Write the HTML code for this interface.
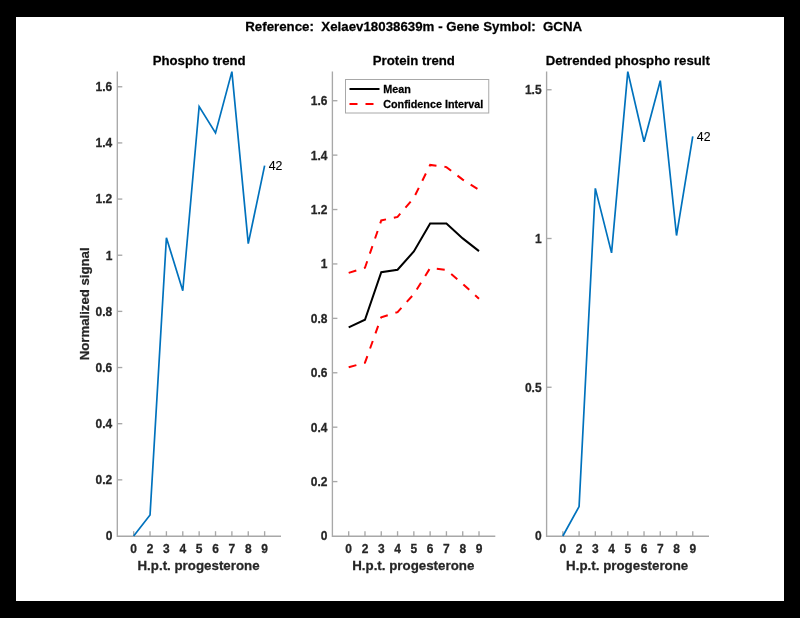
<!DOCTYPE html>
<html><head><meta charset="utf-8"><style>
html,body{margin:0;padding:0;background:#000;overflow:hidden;}
svg{display:block;will-change:transform;font-family:"Liberation Sans",sans-serif;}
</style></head><body>
<svg width="800" height="618" viewBox="0 0 800 618">
<rect x="0" y="0" width="800" height="618" fill="#000"/>
<rect x="16" y="17" width="768" height="584" fill="#fff"/>
<text transform="translate(413.70 31.00) scale(1 1.005)" text-anchor="middle" font-size="13.3" font-weight="bold" stroke="#000" stroke-width="0.25" fill="#000" xml:space="preserve" style="white-space:pre">Reference:  Xelaev18038639m - Gene Symbol:  GCNA</text>
<path d="M117.30 71.6V536.20H281.0" fill="none" stroke="#a8a8a8" stroke-width="1.35"/>
<text transform="translate(112.30 540.40) scale(1 1.005)" text-anchor="end" font-size="12" font-weight="bold" stroke="#262626" stroke-width="0.25" fill="#262626">0</text>
<path d="M117.30 479.85h5" stroke="#a8a8a8" stroke-width="1.35"/>
<text transform="translate(112.30 484.25) scale(1 1.005)" text-anchor="end" font-size="12" font-weight="bold" stroke="#262626" stroke-width="0.25" fill="#262626">0.2</text>
<path d="M117.30 423.69h5" stroke="#a8a8a8" stroke-width="1.35"/>
<text transform="translate(112.30 428.09) scale(1 1.005)" text-anchor="end" font-size="12" font-weight="bold" stroke="#262626" stroke-width="0.25" fill="#262626">0.4</text>
<path d="M117.30 367.54h5" stroke="#a8a8a8" stroke-width="1.35"/>
<text transform="translate(112.30 371.94) scale(1 1.005)" text-anchor="end" font-size="12" font-weight="bold" stroke="#262626" stroke-width="0.25" fill="#262626">0.6</text>
<path d="M117.30 311.38h5" stroke="#a8a8a8" stroke-width="1.35"/>
<text transform="translate(112.30 315.78) scale(1 1.005)" text-anchor="end" font-size="12" font-weight="bold" stroke="#262626" stroke-width="0.25" fill="#262626">0.8</text>
<path d="M117.30 255.23h5" stroke="#a8a8a8" stroke-width="1.35"/>
<text transform="translate(112.30 259.63) scale(1 1.005)" text-anchor="end" font-size="12" font-weight="bold" stroke="#262626" stroke-width="0.25" fill="#262626">1</text>
<path d="M117.30 199.07h5" stroke="#a8a8a8" stroke-width="1.35"/>
<text transform="translate(112.30 203.47) scale(1 1.005)" text-anchor="end" font-size="12" font-weight="bold" stroke="#262626" stroke-width="0.25" fill="#262626">1.2</text>
<path d="M117.30 142.92h5" stroke="#a8a8a8" stroke-width="1.35"/>
<text transform="translate(112.30 147.32) scale(1 1.005)" text-anchor="end" font-size="12" font-weight="bold" stroke="#262626" stroke-width="0.25" fill="#262626">1.4</text>
<path d="M117.30 86.76h5" stroke="#a8a8a8" stroke-width="1.35"/>
<text transform="translate(112.30 91.16) scale(1 1.005)" text-anchor="end" font-size="12" font-weight="bold" stroke="#262626" stroke-width="0.25" fill="#262626">1.6</text>
<path d="M133.67 536.20v-5" stroke="#a8a8a8" stroke-width="1.35"/>
<text transform="translate(133.67 552.60) scale(1 1.005)" text-anchor="middle" font-size="12" font-weight="bold" stroke="#262626" stroke-width="0.25" fill="#262626">0</text>
<path d="M150.04 536.20v-5" stroke="#a8a8a8" stroke-width="1.35"/>
<text transform="translate(150.04 552.60) scale(1 1.005)" text-anchor="middle" font-size="12" font-weight="bold" stroke="#262626" stroke-width="0.25" fill="#262626">2</text>
<path d="M166.41 536.20v-5" stroke="#a8a8a8" stroke-width="1.35"/>
<text transform="translate(166.41 552.60) scale(1 1.005)" text-anchor="middle" font-size="12" font-weight="bold" stroke="#262626" stroke-width="0.25" fill="#262626">3</text>
<path d="M182.78 536.20v-5" stroke="#a8a8a8" stroke-width="1.35"/>
<text transform="translate(182.78 552.60) scale(1 1.005)" text-anchor="middle" font-size="12" font-weight="bold" stroke="#262626" stroke-width="0.25" fill="#262626">4</text>
<path d="M199.15 536.20v-5" stroke="#a8a8a8" stroke-width="1.35"/>
<text transform="translate(199.15 552.60) scale(1 1.005)" text-anchor="middle" font-size="12" font-weight="bold" stroke="#262626" stroke-width="0.25" fill="#262626">5</text>
<path d="M215.52 536.20v-5" stroke="#a8a8a8" stroke-width="1.35"/>
<text transform="translate(215.52 552.60) scale(1 1.005)" text-anchor="middle" font-size="12" font-weight="bold" stroke="#262626" stroke-width="0.25" fill="#262626">6</text>
<path d="M231.89 536.20v-5" stroke="#a8a8a8" stroke-width="1.35"/>
<text transform="translate(231.89 552.60) scale(1 1.005)" text-anchor="middle" font-size="12" font-weight="bold" stroke="#262626" stroke-width="0.25" fill="#262626">7</text>
<path d="M248.26 536.20v-5" stroke="#a8a8a8" stroke-width="1.35"/>
<text transform="translate(248.26 552.60) scale(1 1.005)" text-anchor="middle" font-size="12" font-weight="bold" stroke="#262626" stroke-width="0.25" fill="#262626">8</text>
<path d="M264.63 536.20v-5" stroke="#a8a8a8" stroke-width="1.35"/>
<text transform="translate(264.63 552.60) scale(1 1.005)" text-anchor="middle" font-size="12" font-weight="bold" stroke="#262626" stroke-width="0.25" fill="#262626">9</text>
<text transform="translate(198.55 569.80) scale(1 1.005)" text-anchor="middle" font-size="13.33" font-weight="bold" stroke="#262626" stroke-width="0.25" fill="#262626">H.p.t. progesterone</text>
<text transform="translate(199.15 65.30) scale(1 1.005)" text-anchor="middle" font-size="13.2" font-weight="bold" stroke="#000" stroke-width="0.25" fill="#000">Phospho trend</text>
<path d="M332.40 71.6V536.20H495.3" fill="none" stroke="#a8a8a8" stroke-width="1.35"/>
<text transform="translate(327.40 540.40) scale(1 1.005)" text-anchor="end" font-size="12" font-weight="bold" stroke="#262626" stroke-width="0.25" fill="#262626">0</text>
<path d="M332.40 481.59h5" stroke="#a8a8a8" stroke-width="1.35"/>
<text transform="translate(327.40 485.99) scale(1 1.005)" text-anchor="end" font-size="12" font-weight="bold" stroke="#262626" stroke-width="0.25" fill="#262626">0.2</text>
<path d="M332.40 427.18h5" stroke="#a8a8a8" stroke-width="1.35"/>
<text transform="translate(327.40 431.58) scale(1 1.005)" text-anchor="end" font-size="12" font-weight="bold" stroke="#262626" stroke-width="0.25" fill="#262626">0.4</text>
<path d="M332.40 372.77h5" stroke="#a8a8a8" stroke-width="1.35"/>
<text transform="translate(327.40 377.17) scale(1 1.005)" text-anchor="end" font-size="12" font-weight="bold" stroke="#262626" stroke-width="0.25" fill="#262626">0.6</text>
<path d="M332.40 318.36h5" stroke="#a8a8a8" stroke-width="1.35"/>
<text transform="translate(327.40 322.76) scale(1 1.005)" text-anchor="end" font-size="12" font-weight="bold" stroke="#262626" stroke-width="0.25" fill="#262626">0.8</text>
<path d="M332.40 263.94h5" stroke="#a8a8a8" stroke-width="1.35"/>
<text transform="translate(327.40 268.34) scale(1 1.005)" text-anchor="end" font-size="12" font-weight="bold" stroke="#262626" stroke-width="0.25" fill="#262626">1</text>
<path d="M332.40 209.53h5" stroke="#a8a8a8" stroke-width="1.35"/>
<text transform="translate(327.40 213.93) scale(1 1.005)" text-anchor="end" font-size="12" font-weight="bold" stroke="#262626" stroke-width="0.25" fill="#262626">1.2</text>
<path d="M332.40 155.12h5" stroke="#a8a8a8" stroke-width="1.35"/>
<text transform="translate(327.40 159.52) scale(1 1.005)" text-anchor="end" font-size="12" font-weight="bold" stroke="#262626" stroke-width="0.25" fill="#262626">1.4</text>
<path d="M332.40 100.71h5" stroke="#a8a8a8" stroke-width="1.35"/>
<text transform="translate(327.40 105.11) scale(1 1.005)" text-anchor="end" font-size="12" font-weight="bold" stroke="#262626" stroke-width="0.25" fill="#262626">1.6</text>
<path d="M348.69 536.20v-5" stroke="#a8a8a8" stroke-width="1.35"/>
<text transform="translate(348.69 552.60) scale(1 1.005)" text-anchor="middle" font-size="12" font-weight="bold" stroke="#262626" stroke-width="0.25" fill="#262626">0</text>
<path d="M364.98 536.20v-5" stroke="#a8a8a8" stroke-width="1.35"/>
<text transform="translate(364.98 552.60) scale(1 1.005)" text-anchor="middle" font-size="12" font-weight="bold" stroke="#262626" stroke-width="0.25" fill="#262626">2</text>
<path d="M381.27 536.20v-5" stroke="#a8a8a8" stroke-width="1.35"/>
<text transform="translate(381.27 552.60) scale(1 1.005)" text-anchor="middle" font-size="12" font-weight="bold" stroke="#262626" stroke-width="0.25" fill="#262626">3</text>
<path d="M397.56 536.20v-5" stroke="#a8a8a8" stroke-width="1.35"/>
<text transform="translate(397.56 552.60) scale(1 1.005)" text-anchor="middle" font-size="12" font-weight="bold" stroke="#262626" stroke-width="0.25" fill="#262626">4</text>
<path d="M413.85 536.20v-5" stroke="#a8a8a8" stroke-width="1.35"/>
<text transform="translate(413.85 552.60) scale(1 1.005)" text-anchor="middle" font-size="12" font-weight="bold" stroke="#262626" stroke-width="0.25" fill="#262626">5</text>
<path d="M430.14 536.20v-5" stroke="#a8a8a8" stroke-width="1.35"/>
<text transform="translate(430.14 552.60) scale(1 1.005)" text-anchor="middle" font-size="12" font-weight="bold" stroke="#262626" stroke-width="0.25" fill="#262626">6</text>
<path d="M446.43 536.20v-5" stroke="#a8a8a8" stroke-width="1.35"/>
<text transform="translate(446.43 552.60) scale(1 1.005)" text-anchor="middle" font-size="12" font-weight="bold" stroke="#262626" stroke-width="0.25" fill="#262626">7</text>
<path d="M462.72 536.20v-5" stroke="#a8a8a8" stroke-width="1.35"/>
<text transform="translate(462.72 552.60) scale(1 1.005)" text-anchor="middle" font-size="12" font-weight="bold" stroke="#262626" stroke-width="0.25" fill="#262626">8</text>
<path d="M479.01 536.20v-5" stroke="#a8a8a8" stroke-width="1.35"/>
<text transform="translate(479.01 552.60) scale(1 1.005)" text-anchor="middle" font-size="12" font-weight="bold" stroke="#262626" stroke-width="0.25" fill="#262626">9</text>
<text transform="translate(413.25 569.80) scale(1 1.005)" text-anchor="middle" font-size="13.33" font-weight="bold" stroke="#262626" stroke-width="0.25" fill="#262626">H.p.t. progesterone</text>
<text transform="translate(413.85 65.30) scale(1 1.005)" text-anchor="middle" font-size="13.2" font-weight="bold" stroke="#000" stroke-width="0.25" fill="#000">Protein trend</text>
<path d="M546.60 71.6V536.20H709.0" fill="none" stroke="#a8a8a8" stroke-width="1.35"/>
<text transform="translate(541.60 540.40) scale(1 1.005)" text-anchor="end" font-size="12" font-weight="bold" stroke="#262626" stroke-width="0.25" fill="#262626">0</text>
<path d="M546.60 387.25h5" stroke="#a8a8a8" stroke-width="1.35"/>
<text transform="translate(541.60 391.65) scale(1 1.005)" text-anchor="end" font-size="12" font-weight="bold" stroke="#262626" stroke-width="0.25" fill="#262626">0.5</text>
<path d="M546.60 238.50h5" stroke="#a8a8a8" stroke-width="1.35"/>
<text transform="translate(541.60 242.90) scale(1 1.005)" text-anchor="end" font-size="12" font-weight="bold" stroke="#262626" stroke-width="0.25" fill="#262626">1</text>
<path d="M546.60 89.75h5" stroke="#a8a8a8" stroke-width="1.35"/>
<text transform="translate(541.60 94.15) scale(1 1.005)" text-anchor="end" font-size="12" font-weight="bold" stroke="#262626" stroke-width="0.25" fill="#262626">1.5</text>
<path d="M562.84 536.20v-5" stroke="#a8a8a8" stroke-width="1.35"/>
<text transform="translate(562.84 552.60) scale(1 1.005)" text-anchor="middle" font-size="12" font-weight="bold" stroke="#262626" stroke-width="0.25" fill="#262626">0</text>
<path d="M579.08 536.20v-5" stroke="#a8a8a8" stroke-width="1.35"/>
<text transform="translate(579.08 552.60) scale(1 1.005)" text-anchor="middle" font-size="12" font-weight="bold" stroke="#262626" stroke-width="0.25" fill="#262626">2</text>
<path d="M595.32 536.20v-5" stroke="#a8a8a8" stroke-width="1.35"/>
<text transform="translate(595.32 552.60) scale(1 1.005)" text-anchor="middle" font-size="12" font-weight="bold" stroke="#262626" stroke-width="0.25" fill="#262626">3</text>
<path d="M611.56 536.20v-5" stroke="#a8a8a8" stroke-width="1.35"/>
<text transform="translate(611.56 552.60) scale(1 1.005)" text-anchor="middle" font-size="12" font-weight="bold" stroke="#262626" stroke-width="0.25" fill="#262626">4</text>
<path d="M627.80 536.20v-5" stroke="#a8a8a8" stroke-width="1.35"/>
<text transform="translate(627.80 552.60) scale(1 1.005)" text-anchor="middle" font-size="12" font-weight="bold" stroke="#262626" stroke-width="0.25" fill="#262626">5</text>
<path d="M644.04 536.20v-5" stroke="#a8a8a8" stroke-width="1.35"/>
<text transform="translate(644.04 552.60) scale(1 1.005)" text-anchor="middle" font-size="12" font-weight="bold" stroke="#262626" stroke-width="0.25" fill="#262626">6</text>
<path d="M660.28 536.20v-5" stroke="#a8a8a8" stroke-width="1.35"/>
<text transform="translate(660.28 552.60) scale(1 1.005)" text-anchor="middle" font-size="12" font-weight="bold" stroke="#262626" stroke-width="0.25" fill="#262626">7</text>
<path d="M676.52 536.20v-5" stroke="#a8a8a8" stroke-width="1.35"/>
<text transform="translate(676.52 552.60) scale(1 1.005)" text-anchor="middle" font-size="12" font-weight="bold" stroke="#262626" stroke-width="0.25" fill="#262626">8</text>
<path d="M692.76 536.20v-5" stroke="#a8a8a8" stroke-width="1.35"/>
<text transform="translate(692.76 552.60) scale(1 1.005)" text-anchor="middle" font-size="12" font-weight="bold" stroke="#262626" stroke-width="0.25" fill="#262626">9</text>
<text transform="translate(627.20 569.80) scale(1 1.005)" text-anchor="middle" font-size="13.33" font-weight="bold" stroke="#262626" stroke-width="0.25" fill="#262626">H.p.t. progesterone</text>
<text transform="translate(627.80 65.30) scale(1 1.005)" text-anchor="middle" font-size="13.2" font-weight="bold" stroke="#000" stroke-width="0.25" fill="#000">Detrended phospho result</text>
<polyline points="133.67,536.00 150.04,514.94 166.41,237.73 182.78,290.77 199.15,106.50 215.52,132.89 231.89,71.60 248.26,243.60 264.63,165.66" fill="none" stroke="#0072bd" stroke-width="1.7"/>
<polyline points="562.84,536.00 579.08,506.55 595.32,188.34 611.56,252.90 627.80,71.60 644.04,141.81 660.28,80.70 676.52,235.52 692.76,136.46" fill="none" stroke="#0072bd" stroke-width="1.7"/>
<polyline points="348.69,272.92 364.98,267.75 381.27,220.41 397.56,216.88 413.85,197.83 430.14,164.92 446.43,167.09 462.72,179.61 479.01,189.94" fill="none" stroke="#ff0000" stroke-width="2" stroke-dasharray="8 8"/>
<polyline points="348.69,367.33 364.98,362.70 381.27,317.27 397.56,312.10 413.85,294.14 430.14,268.02 446.43,269.93 462.72,283.80 479.01,298.77" fill="none" stroke="#ff0000" stroke-width="2" stroke-dasharray="8 8"/>
<polyline points="348.69,327.33 364.98,319.72 381.27,272.21 397.56,269.77 413.85,251.43 430.14,223.41 446.43,223.41 462.72,238.37 479.01,251.16" fill="none" stroke="#000" stroke-width="2"/>
<text transform="translate(268.73 170.01) scale(1 1.005)" font-size="12.3" fill="#000" stroke="#000" stroke-width="0.12">42</text>
<text transform="translate(696.86 140.81) scale(1 1.005)" font-size="12.3" fill="#000" stroke="#000" stroke-width="0.12">42</text>
<text transform="translate(88.50 303.80) rotate(-90) scale(1 1.005)" text-anchor="middle" font-size="13.2" font-weight="bold" stroke="#262626" stroke-width="0.25" fill="#262626">Normalized signal</text>
<rect x="345.5" y="79.5" width="143.25" height="33.5" fill="#fff" stroke="#a8a8a8" stroke-width="1"/>
<path d="M349.5 89H379.5" stroke="#000" stroke-width="2"/>
<path d="M349.5 104H379.5" stroke="#ff0000" stroke-width="2" stroke-dasharray="8 8"/>
<text transform="translate(383.20 93.00) scale(1 1.005)" font-size="10.8" font-weight="bold" stroke="#000" stroke-width="0.25" fill="#000">Mean</text>
<text transform="translate(383.20 108.00) scale(1 1.005)" font-size="10.8" font-weight="bold" stroke="#000" stroke-width="0.25" fill="#000">Confidence Interval</text>
</svg>
</body></html>
